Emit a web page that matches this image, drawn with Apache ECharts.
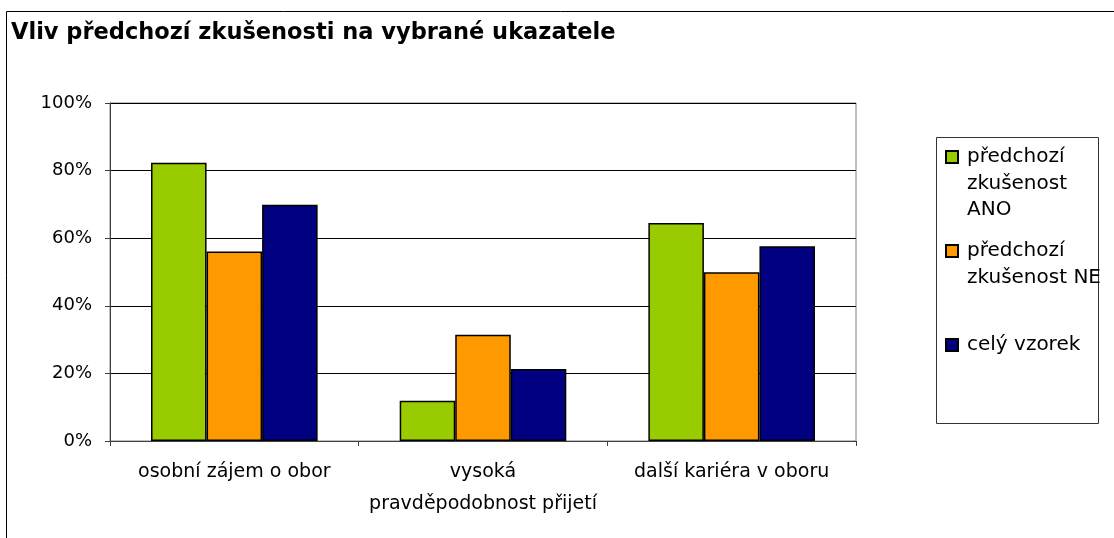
<!DOCTYPE html>
<html lang="cs">
<head>
    <meta charset="UTF-8">
    <title>Vliv předchozí zkušenosti na vybrané ukazatele</title>
    <style>
        html, body { margin: 0; padding: 0; background: #fff; overflow: hidden; }
        #chart { width: 1114px; height: 538px; }
    </style>
</head>
<body>
<div id="chart"></div>
<script src="https://cdn.jsdelivr.net/npm/echarts@6/dist/echarts.min.js"></script>
<script>
    // kategorie a hodnoty (v %)
    var categories = ['osobní zájem o obor', 'vysoká\npravděpodobnost přijetí', 'další kariéra v oboru'];
    var seriesNames = ['předchozí zkušenost ANO', 'předchozí zkušenost NE', 'celý vzorek'];
    var valuesAno = [82.3, 11.9, 64.5];
    var valuesNe = [56.1, 31.4, 49.9];
    var valuesAll = [69.9, 21.3, 57.6];
    var yTicks = [0, 20, 40, 60, 80, 100];

    var colors = ['#99CC00', '#FF9900', '#000080'];
    // text legendy (prázdné řádky nahoře, aby čtvereček seděl u prvního řádku)
    var legendText = {
        'předchozí zkušenost ANO': '\n\npředchozí\nzkušenost\nANO',
        'předchozí zkušenost NE': '\npředchozí\nzkušenost NE',
        'celý vzorek': 'celý vzorek'
    };
    var legendTops = [90.75, 211.25, 331.75];

    var font = 'DejaVu Sans';
    var chart = echarts.init(document.getElementById('chart'));

    function makeLegend(i) {
        return {
            data: [seriesNames[i]],
            left: 945,
            top: legendTops[i],
            padding: 0,
            itemWidth: 12,
            itemHeight: 12,
            icon: 'rect',
            selectedMode: false,
            formatter: function (name) { return legendText[name]; },
            textStyle: {color: '#000', fontFamily: font, fontSize: 20, lineHeight: 26.5, padding: [0, 0, 0, 4]}
        };
    }

    function makeSeries(i, data) {
        return {
            name: seriesNames[i],
            type: 'bar',
            barGap: '0%',
            barCategoryGap: '33%',
            itemStyle: {color: colors[i], borderColor: '#000', borderWidth: 1.5},
            data: data
        };
    }

    var option = {
        animation: false,
        title: {
            text: 'Vliv předchozí zkušenosti na vybrané ukazatele',
            left: 11,
            top: 22,
            padding: 0,
            textStyle: {color: '#000', fontFamily: font, fontSize: 22.5, fontWeight: 'bold'}
        },
        legend: [makeLegend(0), makeLegend(1), makeLegend(2)],
        graphic: [
            {type: 'rect', shape: {x: 6.5, y: 11.5, width: 1200, height: 600}, style: {fill: 'none', stroke: '#000', lineWidth: 1}, silent: true},
            {type: 'rect', shape: {x: 936.5, y: 137.5, width: 162, height: 286}, style: {fill: 'none', stroke: '#333', lineWidth: 1}, silent: true}
        ],
        grid: {
            left: 110, right: 258, top: 103, bottom: 97,
            show: true, borderColor: '#808080', borderWidth: 1,
            containLabel: false
        },
        xAxis: {
            type: 'category',
            data: categories,
            axisLine: {lineStyle: {color: '#404040', width: 1}},
            axisTick: {show: true, length: 5, lineStyle: {color: '#404040'}},
            axisLabel: {color: '#000', fontFamily: font, fontSize: 19, lineHeight: 32, margin: 15, interval: 0}
        },
        yAxis: {
            type: 'value',
            min: yTicks[0],
            max: yTicks[yTicks.length - 1],
            interval: yTicks[1] - yTicks[0],
            axisLine: {show: true, lineStyle: {color: '#404040', width: 1}},
            axisTick: {show: true, length: 5, lineStyle: {color: '#404040'}},
            axisLabel: {color: '#000', fontFamily: font, fontSize: 18, margin: 18, formatter: '{value}%'},
            splitLine: {show: true, lineStyle: {color: '#000', width: 1}}
        },
        series: [
            makeSeries(0, valuesAno),
            makeSeries(1, valuesNe),
            makeSeries(2, valuesAll)
        ]
    };
    chart.setOption(option);
</script>
</body>
</html>
